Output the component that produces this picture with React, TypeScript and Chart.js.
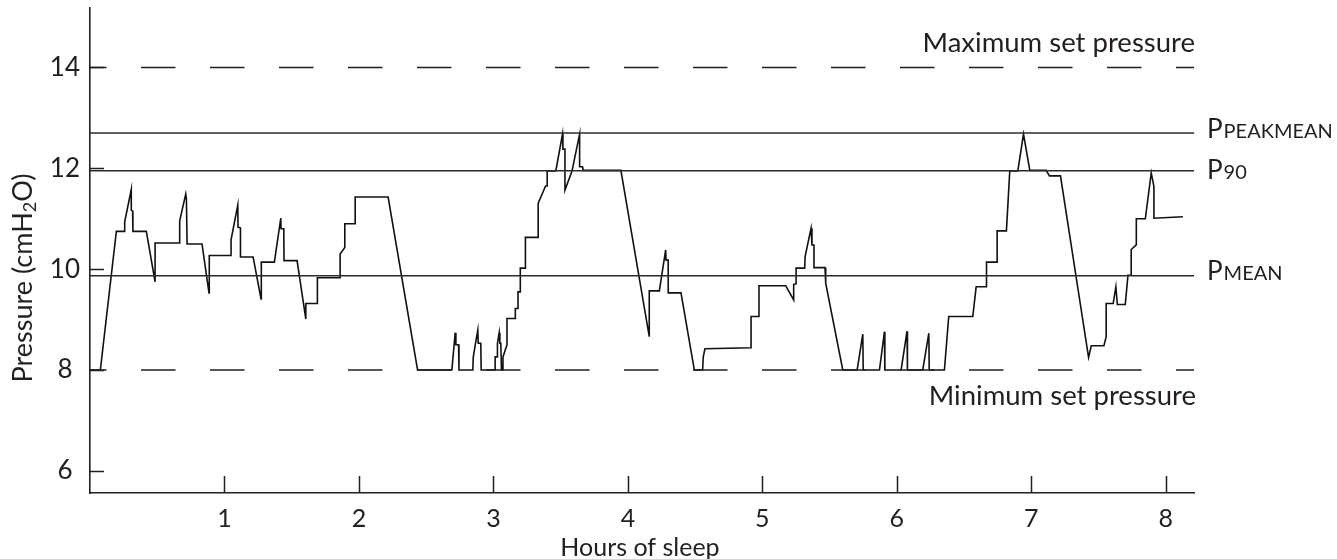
import React, { useEffect, useRef } from "react";
import { Chart, registerables } from "chart.js";

Chart.register(...registerables);

// ---- data ----
const hours = [
  0, 0.077, 0.196, 0.258, 0.258, 0.307, 0.307, 0.317, 0.319, 0.419, 0.484, 0.484,
  0.667, 0.667, 0.712, 0.717, 0.722, 0.833, 0.885, 0.887, 1.049, 1.049, 1.099, 1.101,
  1.119, 1.119, 1.213, 1.272, 1.274, 1.371, 1.419, 1.421, 1.441, 1.443, 1.54, 1.605,
  1.605, 1.691, 1.691, 1.86, 1.86, 1.895, 1.895, 1.972, 1.972, 2.217, 2.436, 2.691,
  2.716, 2.721, 2.741, 2.744, 2.847, 2.85, 2.865, 2.884, 2.887, 2.906, 2.909, 3.013,
  3.013, 3.027, 3.03, 3.043, 3.048, 3.055, 3.06, 3.071, 3.071, 3.101, 3.101, 3.163,
  3.163, 3.183, 3.183, 3.2, 3.2, 3.238, 3.238, 3.333, 3.333, 3.388, 3.4, 3.4,
  3.464, 3.514, 3.517, 3.532, 3.532, 3.584, 3.641, 3.641, 3.663, 3.668, 3.948, 4.159,
  4.159, 4.234, 4.281, 4.284, 4.3, 4.3, 4.395, 4.494, 4.556, 4.56, 4.573, 4.916,
  4.916, 4.975, 4.975, 5.174, 5.233, 5.233, 5.251, 5.251, 5.315, 5.318, 5.362, 5.369,
  5.384, 5.384, 5.466, 5.471, 5.598, 5.705, 5.747, 5.75, 5.871, 5.908, 5.911, 6.032,
  6.076, 6.079, 6.193, 6.238, 6.241, 6.354, 6.386, 6.565, 6.59, 6.667, 6.667, 6.746,
  6.746, 6.815, 6.84, 6.9, 6.942, 6.989, 7.11, 7.135, 7.217, 7.426, 7.446, 7.54,
  7.557, 7.557, 7.609, 7.629, 7.64, 7.699, 7.719, 7.743, 7.743, 7.781, 7.781, 7.848,
  7.892, 7.912, 7.912, 8.127,
];
const pressure = [
  8, 8, 10.75, 10.75, 10.94, 11.58, 11.17, 11.15, 10.75, 10.75, 9.75, 10.52,
  10.52, 10.96, 11.49, 11.39, 10.5, 10.5, 9.53, 10.27, 10.27, 10.58, 11.27, 10.83,
  10.82, 10.24, 10.24, 9.41, 10.14, 10.14, 11.01, 10.8, 10.8, 10.17, 10.17, 9.01,
  9.32, 9.32, 9.83, 9.83, 10.3, 10.43, 10.9, 10.9, 11.43, 11.43, 8, 8,
  8.74, 8.5, 8.5, 8, 8, 8.25, 8.5, 8.79, 8.53, 8.53, 8, 8,
  8.26, 8.26, 8.53, 8.74, 8.53, 8.53, 8, 8, 8.26, 8.5, 9.02, 9.02,
  9.22, 9.22, 9.55, 9.55, 10.02, 10.02, 10.63, 10.63, 11.31, 11.65, 11.65, 11.95,
  11.95, 12.68, 12.38, 12.38, 11.57, 11.94, 12.68, 12.03, 12.03, 11.96, 11.96, 8.66,
  9.57, 9.57, 10.38, 10.18, 10.18, 9.53, 9.53, 8, 8, 8.25, 8.42, 8.44,
  9.06, 9.06, 9.67, 9.67, 9.39, 9.7, 9.71, 10.02, 10.02, 10.25, 10.81, 10.48,
  10.48, 10.03, 10.03, 9.72, 8, 8, 8.71, 8, 8, 8.76, 8, 8,
  8.77, 8, 8, 8.73, 8, 8, 9.06, 9.06, 9.65, 9.65, 10.14, 10.14,
  10.76, 10.76, 11.95, 11.95, 12.68, 11.96, 11.96, 11.85, 11.85, 8.25, 8.48, 8.48,
  8.66, 9.32, 9.32, 9.65, 9.3, 9.3, 9.88, 9.88, 10.39, 10.48, 11.0, 11.0,
  11.91, 11.64, 11.01, 11.04,
];

const xTicks = [1, 2, 3, 4, 5, 6, 7, 8];
const yTicks = [6, 8, 10, 12, 14];

const P_PEAKMEAN = 12.7;
const P_90 = 11.95;
const P_MEAN = 9.87;
const MAX_SET = 14;
const MIN_SET = 8;

const X_MIN = 0;
const X_MAX = 8.21;
const Y_MIN = 5.56;
const Y_MAX = 15.18;

const INK = "#231f20";
const FONT = "Lato";

const flat = (y: number) => [
  { x: X_MIN, y },
  { x: X_MAX, y },
];

const decorPlugin = {
  id: "decor",
  afterDraw(chart: any) {
    const ctx = chart.ctx as CanvasRenderingContext2D;
    const xs = chart.scales.x;
    const ys = chart.scales.y;
    const area = chart.chartArea;
    ctx.save();
    // inward tick marks
    ctx.strokeStyle = INK;
    ctx.lineWidth = 1.5;
    ctx.beginPath();
    xTicks.forEach((v) => {
      const px = Math.round(xs.getPixelForValue(v)) + 0.5;
      ctx.moveTo(px, area.bottom);
      ctx.lineTo(px, area.bottom - 17);
    });
    yTicks.forEach((v) => {
      const py = Math.round(ys.getPixelForValue(v)) + 0.5;
      ctx.moveTo(area.left, py);
      ctx.lineTo(area.left + 14, py);
    });
    ctx.stroke();

    ctx.fillStyle = INK;
    ctx.textBaseline = "alphabetic";

    // set pressure labels
    ctx.font = `27.5px ${FONT}`;
    ctx.textAlign = "right";
    ctx.fillText("Maximum set pressure", 1195, ys.getPixelForValue(MAX_SET) - 15.5);
    ctx.fillText("Minimum set pressure", 1196, ys.getPixelForValue(MIN_SET) + 35);

    // P labels
    ctx.textAlign = "left";
    const pLabel = (rest: string, y: number) => {
      ctx.font = `26px ${FONT}`;
      ctx.fillText("P", 1207, y);
      const w = ctx.measureText("P").width;
      ctx.font = `20px ${FONT}`;
      ctx.fillText(rest, 1207 + w + 1, y);
    };
    pLabel("PEAKMEAN", ys.getPixelForValue(P_PEAKMEAN) + 4.5);
    pLabel("90", ys.getPixelForValue(P_90) + 8);
    pLabel("MEAN", ys.getPixelForValue(P_MEAN) + 4.5);

    // x title
    ctx.textAlign = "center";
    ctx.font = `25px ${FONT}`;
    ctx.fillText("Hours of sleep", (area.left + area.right) / 2 - 2, 556);

    // y title with subscript
    ctx.translate(32, 278);
    ctx.rotate(-Math.PI / 2);
    ctx.textAlign = "left";
    const big = `27px ${FONT}`;
    const small = `18px ${FONT}`;
    const a = "Pressure (cmH";
    const b = "2";
    const c = "O)";
    ctx.font = big;
    const wa = ctx.measureText(a).width;
    const wc = ctx.measureText(c).width;
    ctx.font = small;
    const wb = ctx.measureText(b).width;
    const total = wa + wb + wc;
    let x0 = -total / 2;
    ctx.font = big;
    ctx.fillText(a, x0, 0);
    x0 += wa;
    ctx.font = small;
    ctx.fillText(b, x0, 4);
    x0 += wb;
    ctx.font = big;
    ctx.fillText(c, x0, 0);
    ctx.restore();
  },
};

export default function App() {
  const canvasRef = useRef<HTMLCanvasElement | null>(null);

  useEffect(() => {
    const canvas = canvasRef.current;
    if (!canvas) return;
    const series = hours.map((h, i) => ({ x: h, y: pressure[i] }));
    const refLine = (label: string, y: number) => ({
      label,
      data: flat(y),
      borderColor: "#2b2b2b",
      borderWidth: 1.5,
      pointRadius: 0,
    });
    const dashLine = (label: string, y: number) => ({
      label,
      data: flat(y),
      borderColor: INK,
      borderWidth: 1.5,
      borderDash: [34.5, 34.5],
      borderDashOffset: 18,
      pointRadius: 0,
    });
    const chart = new Chart(canvas, {
      type: "line",
      data: {
        datasets: [
          dashLine("Maximum set pressure", MAX_SET),
          dashLine("Minimum set pressure", MIN_SET),
          refLine("PPEAKMEAN", P_PEAKMEAN),
          refLine("P90", P_90),
          refLine("PMEAN", P_MEAN),
          {
            label: "Pressure",
            data: series,
            borderColor: "#111",
            borderWidth: 1.6,
            pointRadius: 0,
            tension: 0,
          },
        ],
      },
      options: {
        animation: false,
        responsive: false,
        devicePixelRatio: 1,
        events: [],
        layout: {
          autoPadding: false,
          padding: { top: 8, right: 143, bottom: 0, left: 0 },
        },
        plugins: {
          legend: { display: false },
          tooltip: { enabled: false },
          title: { display: false },
        },
        scales: {
          x: {
            type: "linear",
            min: X_MIN,
            max: X_MAX,
            afterBuildTicks: (scale: any) => {
              scale.ticks = xTicks.map((v) => ({ value: v }));
            },
            afterFit: (scale: any) => {
              scale.height = 66;
              scale.paddingLeft = 0;
              scale.paddingRight = 0;
            },
            grid: { drawOnChartArea: false, drawTicks: false },
            border: { display: true, color: INK, width: 1.6 },
            ticks: {
              color: INK,
              font: { family: FONT, size: 25 },
              padding: 11,
              maxRotation: 0,
              autoSkip: false,
              callback: (v: any) => String(v),
            },
          },
          y: {
            type: "linear",
            min: Y_MIN,
            max: Y_MAX,
            afterBuildTicks: (scale: any) => {
              scale.ticks = yTicks.map((v) => ({ value: v }));
            },
            afterFit: (scale: any) => {
              scale.width = 90;
              scale.paddingTop = 0;
              scale.paddingBottom = 0;
            },
            grid: { drawOnChartArea: false, drawTicks: false },
            border: { display: true, color: INK, width: 1.6 },
            ticks: {
              color: INK,
              font: { family: FONT, size: 26 },
              padding: 10,
              crossAlign: "center",
              autoSkip: false,
              callback: (v: any) => String(v),
            },
          },
        },
      },
      plugins: [decorPlugin],
    } as any);
    return () => chart.destroy();
  }, []);

  return (
    <div style={{ position: "fixed", left: 0, top: 0, width: 1337, height: 559, background: "#fff" }}>
      <canvas ref={canvasRef} width={1337} height={559} style={{ display: "block" }} />
    </div>
  );
}
